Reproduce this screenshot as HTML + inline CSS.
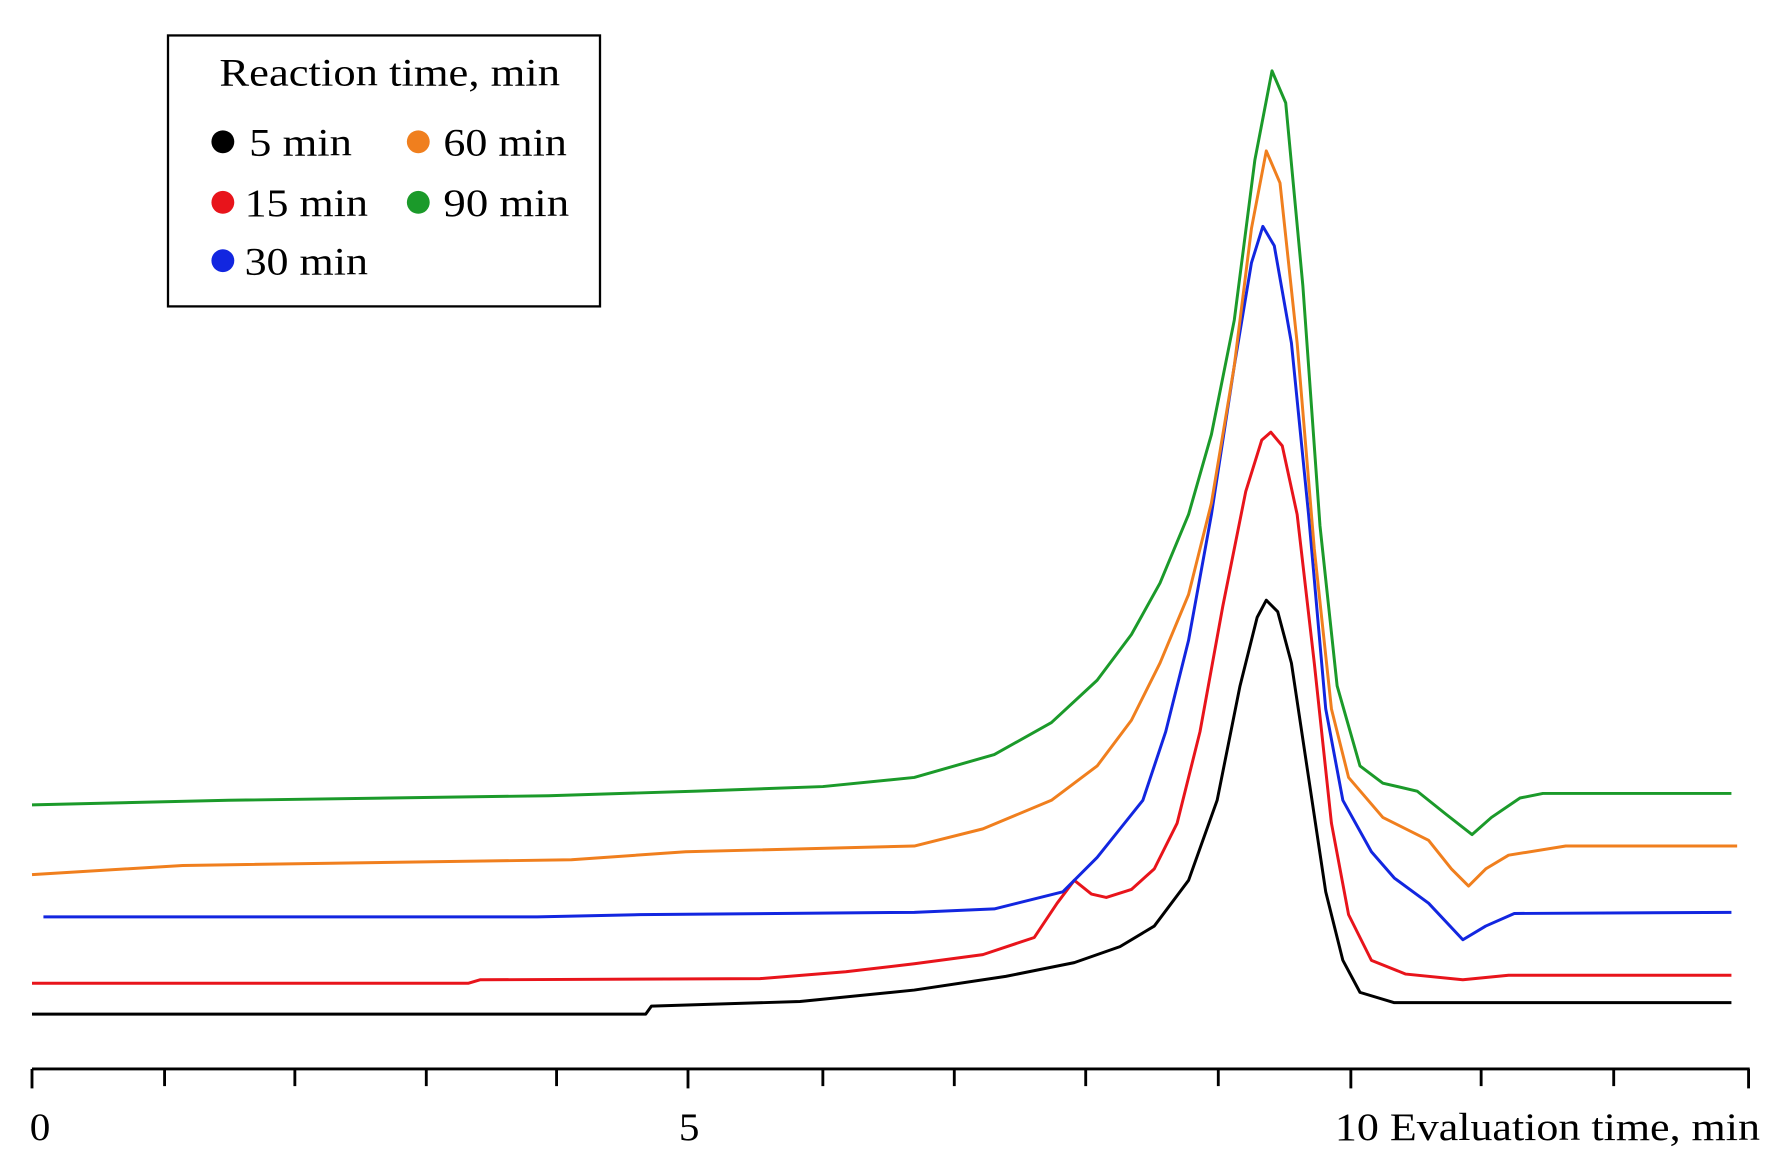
<!DOCTYPE html>
<html><head><meta charset="utf-8"><style>
html,body{margin:0;padding:0;background:#fff;width:1792px;height:1165px;overflow:hidden}
svg{display:block}
text{font-family:"Liberation Serif",serif}
</style></head><body>
<svg width="1792" height="1165" viewBox="0 0 1568 1019" preserveAspectRatio="none">
<rect x="0" y="0" width="1568" height="1019" fill="#fff"/>
<!-- legend -->
<rect x="147" y="31" width="378" height="237" fill="#fff" stroke="#000" stroke-width="2"/>
<text x="192" y="75" font-size="34" textLength="298" lengthAdjust="spacingAndGlyphs">Reaction time, min</text>
<circle cx="195" cy="124" r="10" fill="#000"/><text x="218" y="136" font-size="34" textLength="90" lengthAdjust="spacingAndGlyphs">5 min</text>
<circle cx="366" cy="124" r="10" fill="#f07f1e"/><text x="388" y="136" font-size="34" textLength="108" lengthAdjust="spacingAndGlyphs">60 min</text>
<circle cx="195" cy="177" r="10" fill="#e8141b"/><text x="214" y="189" font-size="34" textLength="108" lengthAdjust="spacingAndGlyphs">15 min</text>
<circle cx="366" cy="177" r="10" fill="#1b9a2a"/><text x="388" y="189" font-size="34" textLength="110" lengthAdjust="spacingAndGlyphs">90 min</text>
<circle cx="195" cy="228" r="10" fill="#1226e0"/><text x="214" y="240" font-size="34" textLength="108" lengthAdjust="spacingAndGlyphs">30 min</text>
<!-- axis -->
<g stroke="#000" stroke-width="2.5">
<line x1="28" y1="935" x2="1531" y2="935"/>
<line x1="28" y1="935" x2="28" y2="952"/><line x1="144" y1="935" x2="144" y2="950"/><line x1="258" y1="935" x2="258" y2="950"/><line x1="373" y1="935" x2="373" y2="950"/><line x1="487" y1="935" x2="487" y2="950"/><line x1="602" y1="935" x2="602" y2="952"/><line x1="720" y1="935" x2="720" y2="950"/><line x1="835" y1="935" x2="835" y2="950"/><line x1="950" y1="935" x2="950" y2="950"/><line x1="1066" y1="935" x2="1066" y2="950"/><line x1="1182" y1="935" x2="1182" y2="952"/><line x1="1296" y1="935" x2="1296" y2="950"/><line x1="1412" y1="935" x2="1412" y2="950"/><line x1="1530" y1="935" x2="1530" y2="952"/>
</g>
<text x="26" y="997" font-size="34" font-family="Liberation Sans" textLength="18" lengthAdjust="spacingAndGlyphs">0</text>
<text x="594" y="997" font-size="34" font-family="Liberation Sans" textLength="18" lengthAdjust="spacingAndGlyphs">5</text>
<text x="1168" y="997" font-size="34" textLength="372" lengthAdjust="spacingAndGlyphs">10 Evaluation time, min</text>
<g fill="none" stroke-width="2.6" stroke-linejoin="round">
<polyline stroke="#000" points="28,887 565,887 570,880 700,876 800,866 880,854 940,842 980,828 1010,810 1040,770 1065,700 1085,600 1100,540 1108,525 1118,535 1130,580 1145,680 1160,780 1175,840 1190,868 1220,877 1515,877"/>
<polyline stroke="#e8141b" points="28,860 410,860 420,857 665,856 740,850 800,843 860,835 905,820 925,790 940,770 955,782 968,785 990,778 1010,760 1030,720 1050,640 1070,530 1090,430 1104,385 1112,378 1122,390 1135,450 1150,580 1165,720 1180,800 1200,840 1230,852 1280,857 1320,853 1515,853"/>
<polyline stroke="#1226e0" points="38,802 470,802 560,800 800,798 870,795 930,780 960,750 980,725 1000,700 1020,640 1040,560 1060,450 1080,320 1095,230 1105,198 1115,215 1130,300 1145,450 1160,620 1175,700 1200,745 1220,768 1250,790 1280,822 1300,810 1325,799 1515,798"/>
<polyline stroke="#f07f1e" points="28,765 160,757 500,752 600,745 800,740 860,725 920,700 960,670 990,630 1015,580 1040,520 1060,440 1080,320 1095,200 1108,132 1120,160 1135,300 1150,480 1165,620 1180,680 1210,715 1250,735 1270,760 1285,775 1300,760 1320,748 1370,740 1520,740"/>
<polyline stroke="#1b9a2a" points="28,704 200,700 480,696 610,692 720,688 800,680 870,660 920,632 960,595 990,555 1015,510 1040,450 1060,380 1080,280 1098,140 1113,62 1125,90 1140,250 1155,460 1170,600 1190,670 1210,685 1240,692 1265,712 1288,730 1305,715 1330,698 1350,694 1515,694"/>
</g>
</svg>
</body></html>
